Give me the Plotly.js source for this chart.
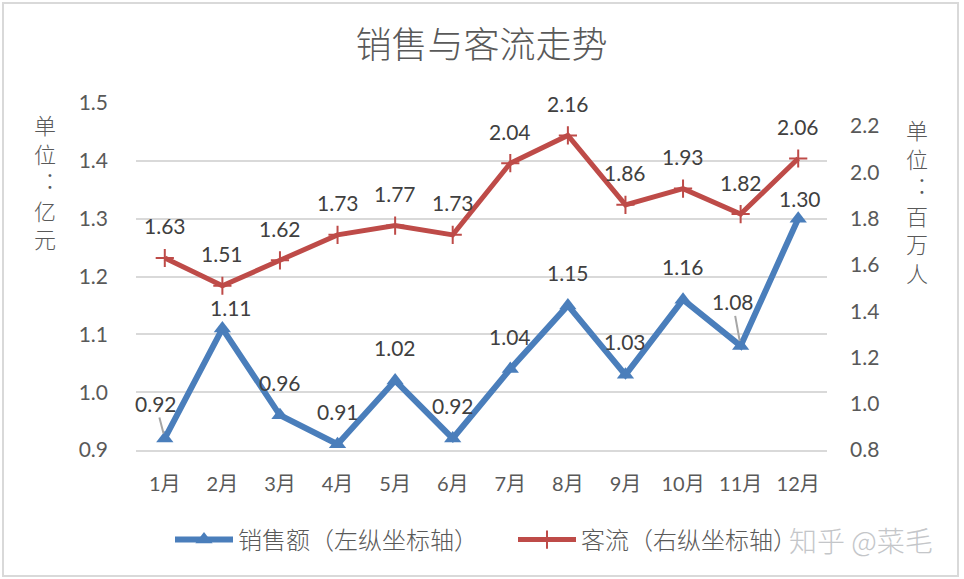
<!DOCTYPE html>
<html><head><meta charset="utf-8">
<script src="https://cdn.plot.ly/plotly-3.0.1.min.js"></script>
<style>
html,body{margin:0;padding:0;background:#fff}
#chart{width:964px;height:579px}
#frame{position:absolute;left:2px;top:2px;width:953px;height:571px;border:2px solid #d9d9d9;pointer-events:none}
</style>
</head><body><div id="chart"></div><div id="frame"></div>
<script>
const months = ["1月","2月","3月","4月","5月","6月","7月","8月","9月","10月","11月","12月"];
const sales = [0.92,1.11,0.96,0.91,1.02,0.92,1.04,1.15,1.03,1.16,1.08,1.30];
const traffic = [1.63,1.51,1.62,1.73,1.77,1.73,2.04,2.16,1.86,1.93,1.82,2.06];
const leftTicks = [0.9,1.0,1.1,1.2,1.3,1.4,1.5];
const rightTicks = [0.8,1.0,1.2,1.4,1.6,1.8,2.0,2.2];
const seriesNames = ["销售额（左纵坐标轴）","客流（右纵坐标轴）"];
const chartTitle = "销售与客流走势";
const leftUnit = ["单","位","︓","亿","元"];
const rightUnit = ["单","位","︓","百","万","人"];
const watermark = "知乎 @菜毛";

const BLUE = "#4a7ebb", RED = "#be4b48";
const FONT = "Lato, 'Noto Sans CJK SC', sans-serif";
const CJK = "'Noto Sans CJK SC', sans-serif";

const traces = [
  {x: months, y: sales, name: seriesNames[0], type: "scatter", mode: "lines+markers", legend: "legend",
   line: {color: BLUE, width: 6}, marker: {symbol: "triangle-up", size: 15, color: BLUE}, yaxis: "y"},
  {x: months, y: traffic, name: seriesNames[1], type: "scatter", mode: "lines+markers", legend: "legend2",
   line: {color: RED, width: 5}, marker: {symbol: "cross-thin", size: 13, line: {color: RED, width: 2}}, yaxis: "y2"}
];

const labelFont = {family: FONT, size: 21, color: "#404040"};
const ann = [];
sales.forEach((v, i) => {
  const a = {x: months[i], y: v, xref: "x", yref: "y", text: v.toFixed(2), font: labelFont, showarrow: false, yshift: 33};
  if (i === 1) { a.yshift = 21; a.xshift = 9; }
  if (i === 11) { a.yshift = 20; a.xshift = 2; }
  if (i === 0 || i === 10) {
    delete a.yshift;
    a.showarrow = true; a.arrowhead = 0; a.arrowwidth = 2; a.arrowcolor = "#a6a6a6";
    a.ax = (i === 0) ? -9 : -8; a.ay = (i === 0) ? -35 : -44; a.standoff = 5;
  }
  ann.push(a);
});
traffic.forEach((v, i) => {
  ann.push({x: months[i], y: v, xref: "x", yref: "y2", text: v.toFixed(2), font: labelFont, showarrow: false, yshift: 32});
});
const unitFont = {family: CJK, size: 22, color: "#595959", weight: 300};
ann.push({xref: "paper", yref: "paper", x: (45 - 136) / 691, y: (450 - 181) / 347, xanchor: "center", yanchor: "middle",
  text: leftUnit.join("<br>"), showarrow: false, font: unitFont, align: "center"});
ann.push({xref: "paper", yref: "paper", x: (917 - 136) / 691, y: (450 - 200) / 347, xanchor: "center", yanchor: "middle",
  text: rightUnit.join("<br>"), showarrow: false, font: unitFont, align: "center"});
ann.push({xref: "paper", yref: "paper", x: (861 - 136) / 691, y: (450 - 540) / 347, xanchor: "center", yanchor: "middle",
  text: watermark, showarrow: false, font: {family: CJK, size: 28, color: "#c4c6c9", weight: 300}});

const legendFont = {family: CJK, size: 24, color: "#595959", weight: 300};
const layout = {
  width: 964, height: 579,
  margin: {l: 136, r: 137, t: 103, b: 129, autoexpand: false},
  paper_bgcolor: "#fff", plot_bgcolor: "#fff",
  font: {family: FONT, color: "#595959"},
  title: {text: chartTitle, font: {family: CJK, size: 36, color: "#595959", weight: 300}, x: 0.5, xref: "paper", y: 1 - 45 / 579, yref: "container", yanchor: "middle"},
  xaxis: {type: "category", range: [-0.5, 11.5], showgrid: false, showline: true, linecolor: "#d9d9d9", linewidth: 2,
    ticks: "", tickfont: {family: FONT, size: 20, color: "#595959"}, ticklabelstandoff: 15},
  yaxis: {range: [0.9, 1.5], tickvals: leftTicks, tickformat: ".1f", showgrid: true, gridcolor: "#d9d9d9", gridwidth: 2,
    zeroline: false, showline: false, ticks: "", tickfont: {family: FONT, size: 21, color: "#595959"}, ticklabelstandoff: 27},
  yaxis2: {range: [0.8, 2.3], tickvals: rightTicks, tickformat: ".1f", overlaying: "y", side: "right", showgrid: false,
    zeroline: false, showline: false, ticks: "", tickfont: {family: FONT, size: 21, color: "#595959"}, ticklabelstandoff: 22},
  showlegend: true,
  legend: {orientation: "h", x: (170 - 136) / 691, xanchor: "left", y: (450 - 540) / 347, yanchor: "middle", yref: "paper",
    font: legendFont, itemwidth: 58, bgcolor: "rgba(0,0,0,0)"},
  legend2: {orientation: "h", x: (513 - 136) / 691, xanchor: "left", y: (450 - 540) / 347, yanchor: "middle", yref: "paper",
    font: legendFont, itemwidth: 58, bgcolor: "rgba(0,0,0,0)"},
  annotations: ann
};

Plotly.newPlot("chart", traces, layout, {displayModeBar: false, staticPlot: true});
</script>
</body></html>
